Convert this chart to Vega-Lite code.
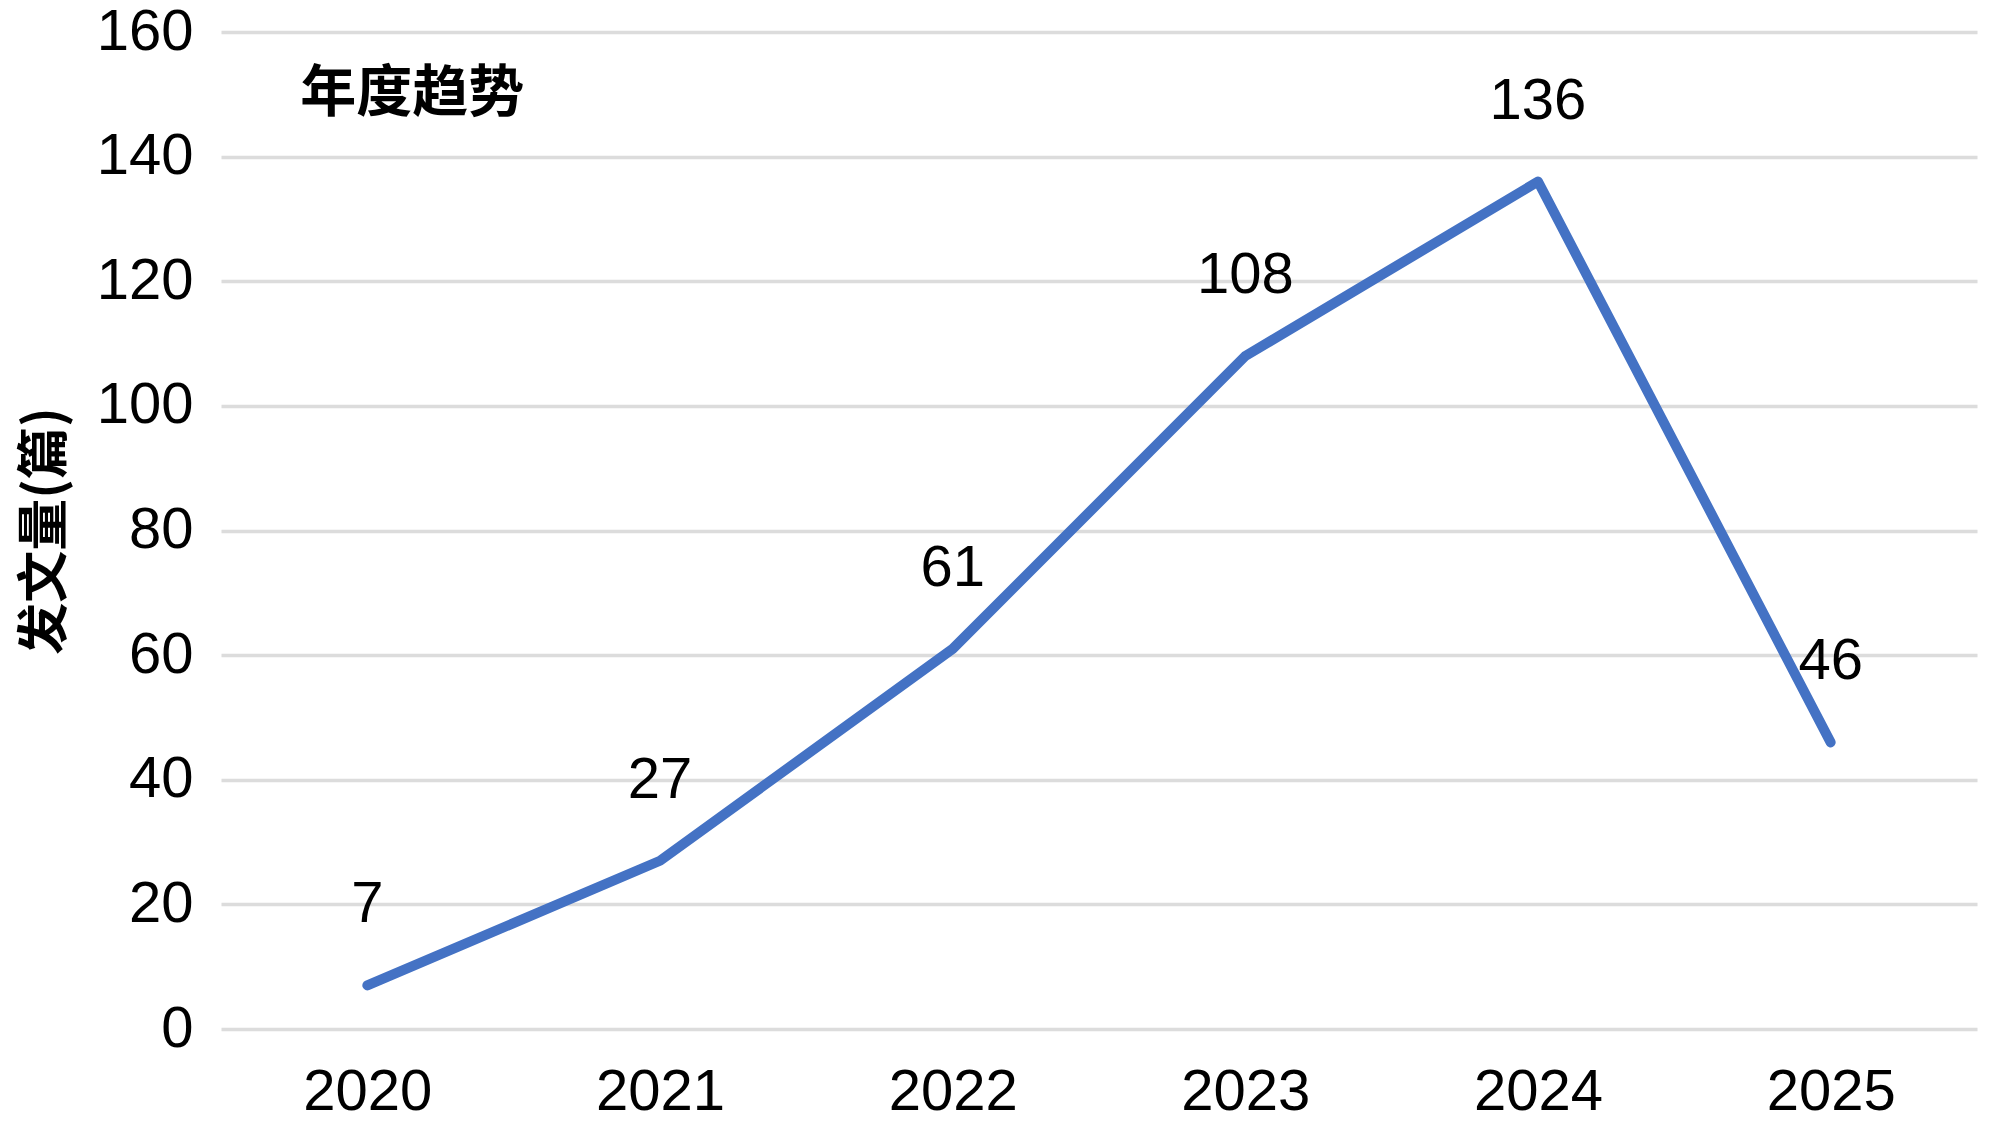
{
  "$schema": "https://vega.github.io/schema/vega-lite/v6.json",
  "width": 1756,
  "height": 997,
  "autosize": {"type": "none"},
  "padding": {"left": 221, "top": 32, "right": 23, "bottom": 98},
  "background": "white",
  "config": {"view": {"stroke": null}, "font": "Liberation Sans"},
  "datasets": {
    "main": [
      {"year": "2020", "count": 7},
      {"year": "2021", "count": 27},
      {"year": "2022", "count": 61},
      {"year": "2023", "count": 108},
      {"year": "2024", "count": 136},
      {"year": "2025", "count": 46}
    ],
    "note": [{"label": "年度趋势", "year": "2020", "count": 150}]
  },
  "layer": [
    {"data": {"name": "main"},
      "mark": {"type": "line", "color": "#4472C4", "strokeWidth": 10, "strokeCap": "round", "strokeJoin": "round"},
      "encoding": {
        "x": {"field": "year", "type": "ordinal", "scale": {"type": "point", "padding": 0.5},
          "axis": {"title": null, "labelAngle": 0, "ticks": false, "domain": false, "grid": false,
            "labelFontSize": 58, "labelColor": "#000000", "labelPadding": 34, "labelFont": "Liberation Sans"}},
        "y": {"field": "count", "type": "quantitative", "scale": {"domain": [0, 160], "nice": false},
          "axis": {"values": [0, 20, 40, 60, 80, 100, 120, 140, 160], "ticks": false, "domain": false,
            "grid": true, "gridColor": "#dcdcdc", "gridWidth": 3.5,
            "labelFontSize": 58, "labelColor": "#000000", "labelPadding": 28, "labelFont": "Liberation Sans",
            "title": "发文量(篇)", "titleFont": "Noto Sans CJK SC", "titleFontSize": 52, "titleFontWeight": "bold",
            "titleColor": "#000000", "titlePadding": 24}}
      }},
    {"data": {"name": "main"},
      "mark": {"type": "text", "fontSize": 58, "color": "#000000", "dy": -80, "baseline": "middle", "font": "Liberation Sans"},
      "encoding": {
        "x": {"field": "year", "type": "ordinal"},
        "y": {"field": "count", "type": "quantitative"},
        "text": {"field": "count", "type": "quantitative"}}},
    {"data": {"name": "note"},
      "mark": {"type": "text", "fontSize": 56, "fontWeight": "bold", "font": "Noto Sans CJK SC", "align": "left", "baseline": "middle", "color": "#000000", "dx": -67},
      "encoding": {
        "x": {"field": "year", "type": "ordinal"},
        "y": {"field": "count", "type": "quantitative"},
        "text": {"field": "label", "type": "nominal"}}}
  ]
}
